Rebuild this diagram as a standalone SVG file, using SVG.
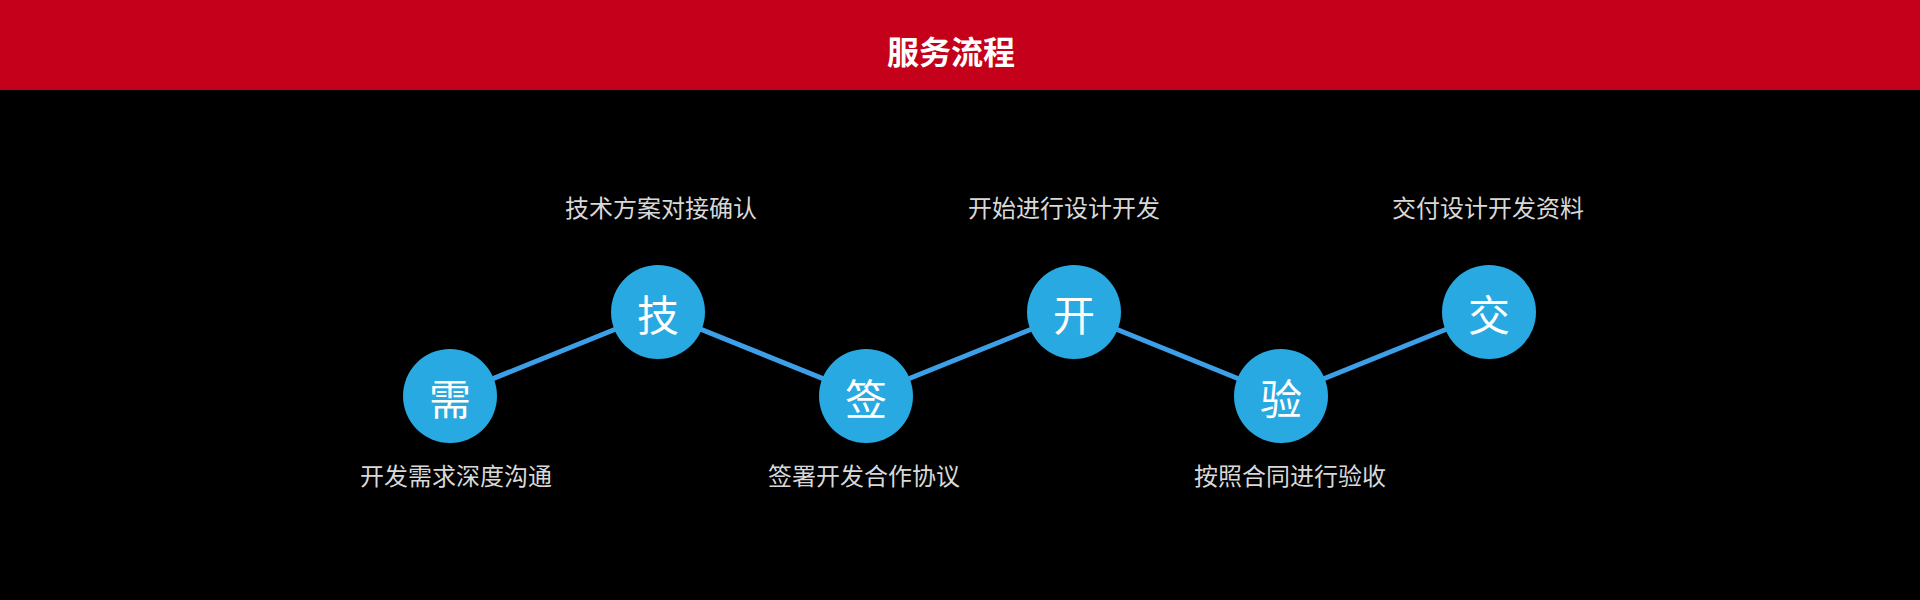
<svg xmlns="http://www.w3.org/2000/svg" width="1920" height="600" viewBox="0 0 1920 600">
<style>
.lbl{font-family:"Noto Sans CJK SC",sans-serif;font-size:24px;fill:#d8d8d8;text-anchor:middle}
.ch{font-family:"Noto Sans CJK SC",sans-serif;font-size:42px;fill:#fff;text-anchor:middle;dominant-baseline:central}
.c{fill:#29a9e1}
</style>
<rect width="1920" height="600" fill="#000"/>
<rect width="1920" height="90" fill="#c4001a"/>
<text x="951" y="50" style="font-family:'Noto Sans CJK SC',sans-serif;font-size:32px;font-weight:bold;fill:#fff;text-anchor:middle;dominant-baseline:central">服务流程</text>
<g id="connectors" stroke="#3d9fe8" stroke-width="5">
<line x1="450" y1="396" x2="658" y2="312"/>
<line x1="658" y1="312" x2="866" y2="396"/>
<line x1="866" y1="396" x2="1074" y2="312"/>
<line x1="1074" y1="312" x2="1281" y2="396"/>
<line x1="1281" y1="396" x2="1489" y2="312"/>
</g>
<g id="n1"><circle class="c" cx="450" cy="396" r="47"/><text class="ch" x="450" y="396">需</text><text class="lbl" x="456" y="485">开发需求深度沟通</text></g>
<g id="n2"><circle class="c" cx="658" cy="312" r="47"/><text class="ch" x="658" y="312">技</text><text class="lbl" x="661" y="217">技术方案对接确认</text></g>
<g id="n3"><circle class="c" cx="866" cy="396" r="47"/><text class="ch" x="866" y="396">签</text><text class="lbl" x="864" y="485">签署开发合作协议</text></g>
<g id="n4"><circle class="c" cx="1074" cy="312" r="47"/><text class="ch" x="1074" y="312">开</text><text class="lbl" x="1064" y="217">开始进行设计开发</text></g>
<g id="n5"><circle class="c" cx="1281" cy="396" r="47"/><text class="ch" x="1281" y="396">验</text><text class="lbl" x="1290" y="485">按照合同进行验收</text></g>
<g id="n6"><circle class="c" cx="1489" cy="312" r="47"/><text class="ch" x="1489" y="312">交</text><text class="lbl" x="1488" y="217">交付设计开发资料</text></g>
</svg>
